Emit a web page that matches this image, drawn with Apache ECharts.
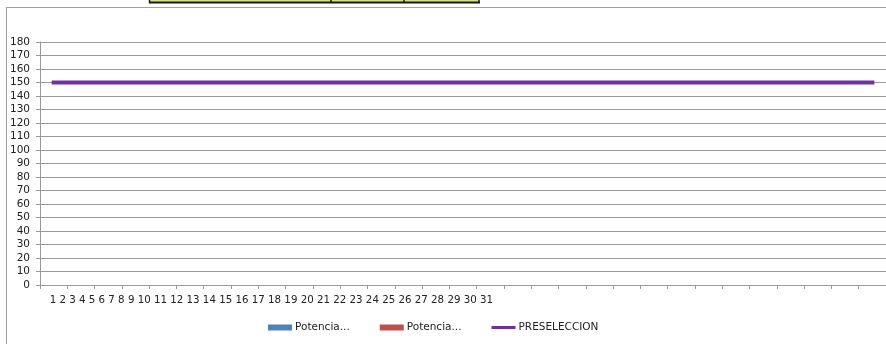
<!DOCTYPE html>
<html>
<head>
<meta charset="utf-8">
<style>
  html, body { margin: 0; padding: 0; background: #ffffff; }
  #chart { width: 886px; height: 344px; }
</style>
<script src="https://cdn.jsdelivr.net/npm/echarts@6/dist/echarts.min.js"></script>
</head>
<body>
<div id="chart"></div>
<script>
// Day-of-month categories
const days = ['1','2','3','4','5','6','7','8','9','10','11','12','13','14','15','16',
              '17','18','19','20','21','22','23','24','25','26','27','28','29','30','31'];

// Series values (the two power series carry no readings)
const potencia1 = days.map(() => null);
const potencia2 = days.map(() => null);
const preseleccion = [150,150,150,150,150,150,150,150,150,150,150,150,150,150,150,150,
                      150,150,150,150,150,150,150,150,150,150,150,150,150,150,150];

// Y-axis scale
const yMin = 0, yMax = 180, yStep = 10;

const FONT = 'DejaVu Sans';
const FONT_SIZE = 10.5;
const GRID_COLOR = '#9a9a9a';

const chart = echarts.init(document.getElementById('chart'), null, { renderer: 'canvas' });

chart.setOption({
  animation: false,
  backgroundColor: '#ffffff',
  textStyle: { fontFamily: FONT },
  grid: { left: 40, top: 42, right: -3, bottom: 59, containLabel: false },
  legend: {
    left: 263,
    top: 317,
    itemWidth: 24,
    itemHeight: 6,
    itemGap: 30,
    textStyle: { fontFamily: FONT, fontSize: FONT_SIZE, color: '#222', padding: [0, 0, 0, -2] },
    formatter: name => name.startsWith('Potencia') ? 'Potencia...' : name,
    data: [
      { name: 'Potencia 1', icon: 'rect' },
      { name: 'Potencia 2', icon: 'rect' },
      { name: 'PRESELECCION', icon: 'path://M0,0H24V3H0Z' }
    ]
  },
  xAxis: {
    type: 'category',
    data: days,
    boundaryGap: true,
    axisLine: { show: true, lineStyle: { color: GRID_COLOR, width: 1 } },
    axisTick: { show: true, interval: 0, length: 4, lineStyle: { color: GRID_COLOR } },
    axisLabel: {
      interval: 0,
      margin: 10,
      align: 'left',
      padding: [0, 0, 0, -4],
      fontFamily: FONT,
      fontSize: 10.25,
      color: '#222',
      // the day numbers are written out as one packed run under the axis
      formatter: (v, i) => i === 0 ? days.join(' ') : ''
    },
    splitLine: { show: false }
  },
  yAxis: {
    type: 'value',
    min: yMin,
    max: yMax,
    interval: yStep,
    axisLine: { show: true, lineStyle: { color: GRID_COLOR, width: 1 } },
    axisTick: { show: true, length: 4, lineStyle: { color: GRID_COLOR } },
    axisLabel: { margin: 10, fontFamily: FONT, fontSize: FONT_SIZE, color: '#222' },
    splitLine: { show: true, lineStyle: { color: GRID_COLOR, width: 1 } }
  },
  series: [
    { name: 'Potencia 1', type: 'bar', data: potencia1, itemStyle: { color: '#4F81BD' } },
    { name: 'Potencia 2', type: 'bar', data: potencia2, itemStyle: { color: '#C0504D' } },
    {
      name: 'PRESELECCION',
      type: 'line',
      data: preseleccion,
      symbol: 'none',
      itemStyle: { color: '#7030A0' },
      lineStyle: { color: '#7030A0', width: 4, cap: 'square' }
    }
  ],
  graphic: [
    // chart frame
    { type: 'line', shape: { x1: 6.5, y1: 7, x2: 6.5, y2: 344 }, style: { stroke: '#a0a0a0', lineWidth: 1 }, silent: true },
    { type: 'line', shape: { x1: 6, y1: 7.5, x2: 886, y2: 7.5 }, style: { stroke: '#a0a0a0', lineWidth: 1 }, silent: true },
    // highlighted cells above the chart
    { type: 'rect', shape: { x: 149, y: 0, width: 330, height: 3 }, style: { fill: '#d6e28a' }, silent: true },
    { type: 'line', shape: { x1: 149, y1: 2.5, x2: 480, y2: 2.5 }, style: { stroke: '#1a1a1a', lineWidth: 2 }, silent: true },
    { type: 'line', shape: { x1: 149.5, y1: 0, x2: 149.5, y2: 3 }, style: { stroke: '#1a1a1a', lineWidth: 1.5 }, silent: true },
    { type: 'line', shape: { x1: 331, y1: 0, x2: 331, y2: 3 }, style: { stroke: '#1a1a1a', lineWidth: 1.5 }, silent: true },
    { type: 'line', shape: { x1: 404, y1: 0, x2: 404, y2: 3 }, style: { stroke: '#1a1a1a', lineWidth: 1.5 }, silent: true },
    { type: 'line', shape: { x1: 479, y1: 0, x2: 479, y2: 3 }, style: { stroke: '#1a1a1a', lineWidth: 1.5 }, silent: true }
  ]
});
</script>
</body>
</html>
